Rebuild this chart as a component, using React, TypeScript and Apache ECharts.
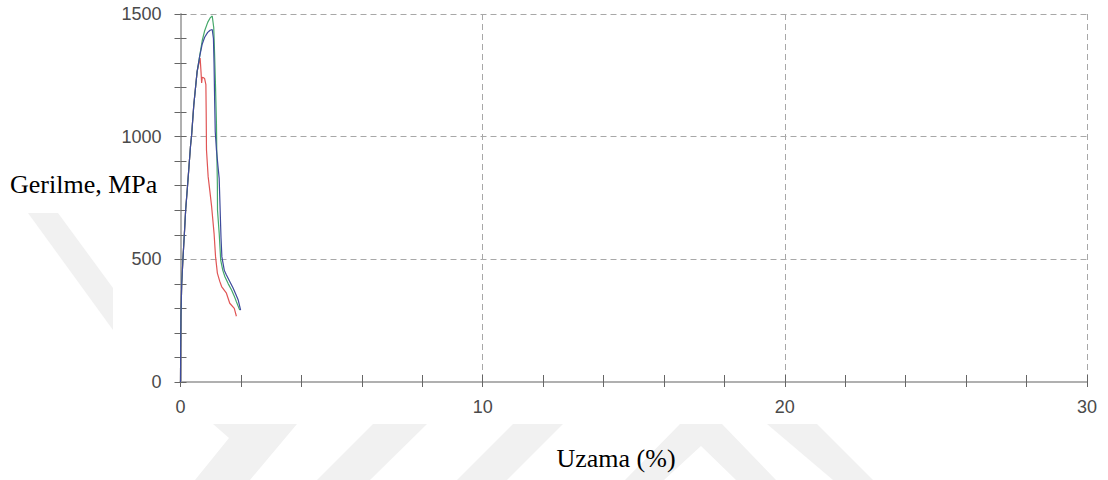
import React, { useEffect, useRef } from "react";
import * as echarts from "echarts";

// Axis ranges and titles
const X_MIN = 0;
const X_MAX = 30;
const X_STEP = 10;
const Y_MIN = 0;
const Y_MAX = 1500;
const Y_STEP = 500;
const X_TITLE = "Uzama (%)";
const Y_TITLE = "Gerilme, MPa";
const seriesNames = ["Numune 1", "Numune 2", "Numune 3"];
const seriesColors = ["#e05555", "#45a86a", "#3d4a9c"];

// [Uzama %, Gerilme MPa]
const redCurve: [number, number][] = [
  [0, 0], [0.005, 130], [0.015, 270], [0.04, 400], [0.08, 500], [0.13, 607],
  [0.17, 700], [0.24, 811], [0.33, 960], [0.37, 1010], [0.44, 1129], [0.55, 1265],
  [0.62, 1305], [0.65, 1320], [0.68, 1262], [0.7, 1219], [0.72, 1242], [0.77, 1240],
  [0.8, 1236], [0.84, 1212], [0.85, 1100], [0.86, 946], [0.915, 837], [0.97, 780],
  [1.03, 715], [1.11, 607], [1.16, 511], [1.22, 444], [1.3, 410], [1.36, 389],
  [1.52, 362], [1.63, 321], [1.78, 300], [1.85, 268],
];

const greenCurve: [number, number][] = [
  [0, 0], [0.005, 130], [0.015, 270], [0.04, 400], [0.08, 500], [0.13, 607],
  [0.17, 700], [0.24, 811], [0.33, 960], [0.37, 1010], [0.44, 1129], [0.55, 1265],
  [0.64, 1333], [0.72, 1392], [0.8, 1432], [0.9, 1466], [0.98, 1484], [1.05, 1492],
  [1.1, 1445], [1.13, 1330], [1.16, 1200], [1.19, 1050], [1.2, 946], [1.22, 810],
  [1.225, 700], [1.28, 607], [1.33, 497], [1.4, 455], [1.47, 429], [1.58, 400],
  [1.69, 375], [1.78, 350], [1.85, 327], [1.96, 293],
];

const blueCurve: [number, number][] = [
  [0, 0], [0.005, 130], [0.015, 270], [0.04, 400], [0.08, 500], [0.13, 607],
  [0.17, 700], [0.24, 811], [0.33, 960], [0.37, 1010], [0.44, 1129], [0.55, 1265],
  [0.64, 1330], [0.72, 1378], [0.8, 1405], [0.9, 1425], [0.98, 1434], [1.05, 1437],
  [1.09, 1400], [1.11, 1300], [1.13, 1150], [1.15, 1020], [1.19, 946], [1.24, 880],
  [1.28, 830], [1.31, 710], [1.34, 590], [1.37, 510], [1.45, 455], [1.52, 436],
  [1.63, 410], [1.74, 383], [1.83, 358], [1.91, 334], [1.99, 293],
];

const curves = [redCurve, greenCurve, blueCurve];

const LABEL_COLOR = "#4a4a4a";
const AXIS_COLOR = "#b0b0b0";
const TICK_COLOR = "#666";
const GRID_COLOR = "#a8a8a8";
const WM_COLOR = "#f1f1f1";

// faint background watermark shapes
const watermark: number[][][] = [
  [[28, 213], [58, 213], [113, 288], [113, 330]],
  [[213, 424], [297, 424], [250, 480], [195, 480], [229, 438]],
  [[373, 424], [427, 424], [370, 480], [317, 480]],
  [[513, 424], [563, 424], [507, 480], [457, 480]],
  [[680, 424], [722, 424], [776, 480], [736, 480], [701, 446], [664, 480], [625, 480]],
  [[767, 424], [817, 424], [873, 480], [833, 480]],
];

export default function App() {
  const ref = useRef<HTMLDivElement>(null);

  useEffect(() => {
    if (!ref.current) return;
    const chart = echarts.init(ref.current, null, { renderer: "svg" });

    const labelFont = {
      color: LABEL_COLOR,
      fontFamily: '"Liberation Sans", Arial, sans-serif',
      fontSize: 18,
      formatter: (v: number) => String(v),
    };

    const option: any = {
      animation: false,
      backgroundColor: "#ffffff",
      grid: {
        left: 180.5,
        right: 21,
        top: 14,
        bottom: 98,
        containLabel: false,
        outerBoundsMode: "none",
      },
      xAxis: [
        {
          type: "value",
          min: X_MIN,
          max: X_MAX,
          interval: X_STEP,
          position: "bottom",
          axisLine: { show: true, onZero: false, lineStyle: { color: AXIS_COLOR, width: 2 } },
          axisTick: { show: true, inside: false, length: 5, lineStyle: { color: TICK_COLOR, width: 1 } },
          minorTick: { show: true, splitNumber: 5, length: 5, lineStyle: { color: TICK_COLOR, width: 1 } },
          axisLabel: { ...labelFont, margin: 16 },
          splitLine: { show: true, lineStyle: { color: GRID_COLOR, width: 1, type: [6, 4] } },
        },
        {
          type: "value",
          min: X_MIN,
          max: X_MAX,
          interval: X_STEP,
          position: "bottom",
          offset: 0,
          axisLine: { show: false },
          axisTick: { show: true, inside: true, length: 7, lineStyle: { color: TICK_COLOR, width: 1 } },
          minorTick: { show: true, splitNumber: 5, length: 7, lineStyle: { color: TICK_COLOR, width: 1 } },
          axisLabel: { show: false },
          splitLine: { show: false },
        },
      ],
      yAxis: [
        {
          type: "value",
          min: Y_MIN,
          max: Y_MAX,
          interval: Y_STEP,
          position: "left",
          axisLine: { show: true, onZero: false, lineStyle: { color: AXIS_COLOR, width: 2 } },
          axisTick: { show: true, inside: false, length: 6, lineStyle: { color: TICK_COLOR, width: 1 } },
          minorTick: { show: true, splitNumber: 5, length: 6, lineStyle: { color: TICK_COLOR, width: 1 } },
          axisLabel: { ...labelFont, margin: 19 },
          splitLine: { show: true, lineStyle: { color: GRID_COLOR, width: 1, type: [6, 4] } },
        },
        {
          type: "value",
          min: Y_MIN,
          max: Y_MAX,
          interval: Y_STEP,
          position: "left",
          offset: 0,
          axisLine: { show: false },
          axisTick: { show: true, inside: true, length: 6, lineStyle: { color: TICK_COLOR, width: 1 } },
          minorTick: { show: true, splitNumber: 5, length: 6, lineStyle: { color: TICK_COLOR, width: 1 } },
          axisLabel: { show: false },
          splitLine: { show: false },
        },
      ],
      graphic: [
        ...watermark.map((pts) => ({
          type: "polygon",
          silent: true,
          z: -10,
          shape: { points: pts },
          style: { fill: WM_COLOR },
        })),
        {
          type: "text",
          z: 10,
          x: 10,
          y: 184,
          style: {
            text: Y_TITLE,
            fill: "#000",
            fontFamily: '"Liberation Serif", "Times New Roman", serif',
            fontSize: 26,
            textAlign: "left",
            textVerticalAlign: "middle",
          },
        },
        {
          type: "text",
          z: 10,
          x: 616,
          y: 458,
          style: {
            text: X_TITLE,
            fill: "#000",
            fontFamily: '"Liberation Serif", "Times New Roman", serif',
            fontSize: 26,
            textAlign: "center",
            textVerticalAlign: "middle",
          },
        },
      ],
      series: curves.map((data, i) => ({
        name: seriesNames[i],
        type: "line",
        xAxisIndex: 0,
        yAxisIndex: 0,
        data,
        showSymbol: false,
        symbol: "none",
        smooth: false,
        clip: true,
        lineStyle: { color: seriesColors[i], width: 1.2 },
        itemStyle: { color: seriesColors[i] },
        z: 3 + i,
      })),
    };

    chart.setOption(option);
    return () => chart.dispose();
  }, []);

  return (
    <div
      ref={ref}
      style={{ position: "absolute", left: 0, top: 0, width: 1108, height: 480 }}
    />
  );
}
